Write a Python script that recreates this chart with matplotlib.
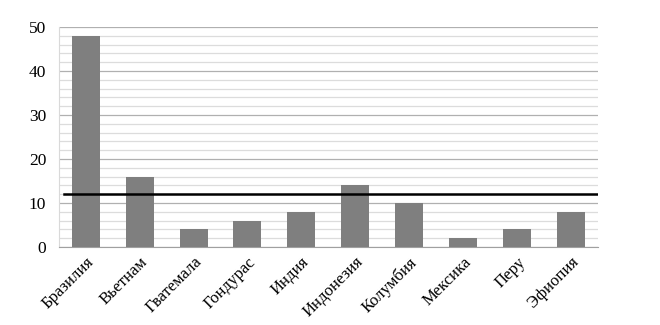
import matplotlib
matplotlib.use("Agg")
import matplotlib.pyplot as plt
import numpy as np
from matplotlib.ticker import MultipleLocator

countries = ["Бразилия", "Вьетнам", "Гватемала", "Гондурас", "Индия",
             "Индонезия", "Колумбия", "Мексика", "Перу", "Эфиопия"]
values = [48, 16, 4, 6, 8, 14, 10, 2, 4, 8]
threshold = 12

plt.rcParams["font.family"] = ["Liberation Serif", "DejaVu Serif"]

fig = plt.figure(figsize=(6.6, 3.25), dpi=100)
ax = fig.add_axes([0.089, 0.24, 0.817, 0.677])

x = np.arange(len(countries))
ax.bar(x, values, width=0.52, color="#7f7f7f", zorder=3)
ax.plot([-0.4, len(countries) - 0.5], [threshold, threshold], color="black", linewidth=1.8, zorder=4)

ax.set_xlim(-0.5, len(countries) - 0.5)
ax.set_ylim(0, 50)
ax.yaxis.set_major_locator(MultipleLocator(10))
ax.yaxis.set_minor_locator(MultipleLocator(2))
ax.grid(axis="y", which="major", color="#b0b0b0", linewidth=0.9, zorder=0)
ax.grid(axis="y", which="minor", color="#dcdcdc", linewidth=0.9, zorder=0)

ax.set_xticks(x)
ax.set_xticklabels(countries, rotation=45, ha="right", rotation_mode="anchor", fontsize=12)
ax.tick_params(axis="y", labelsize=12.5, length=0, pad=9)
ax.tick_params(axis="y", which="minor", length=0)
ax.tick_params(axis="x", length=0, pad=5)

for side in ["top", "right"]:
    ax.spines[side].set_visible(False)
ax.spines["left"].set_color("#d9d9d9")
ax.spines["bottom"].set_color("#a0a0a0")

fig.savefig("out.png", dpi=100)
